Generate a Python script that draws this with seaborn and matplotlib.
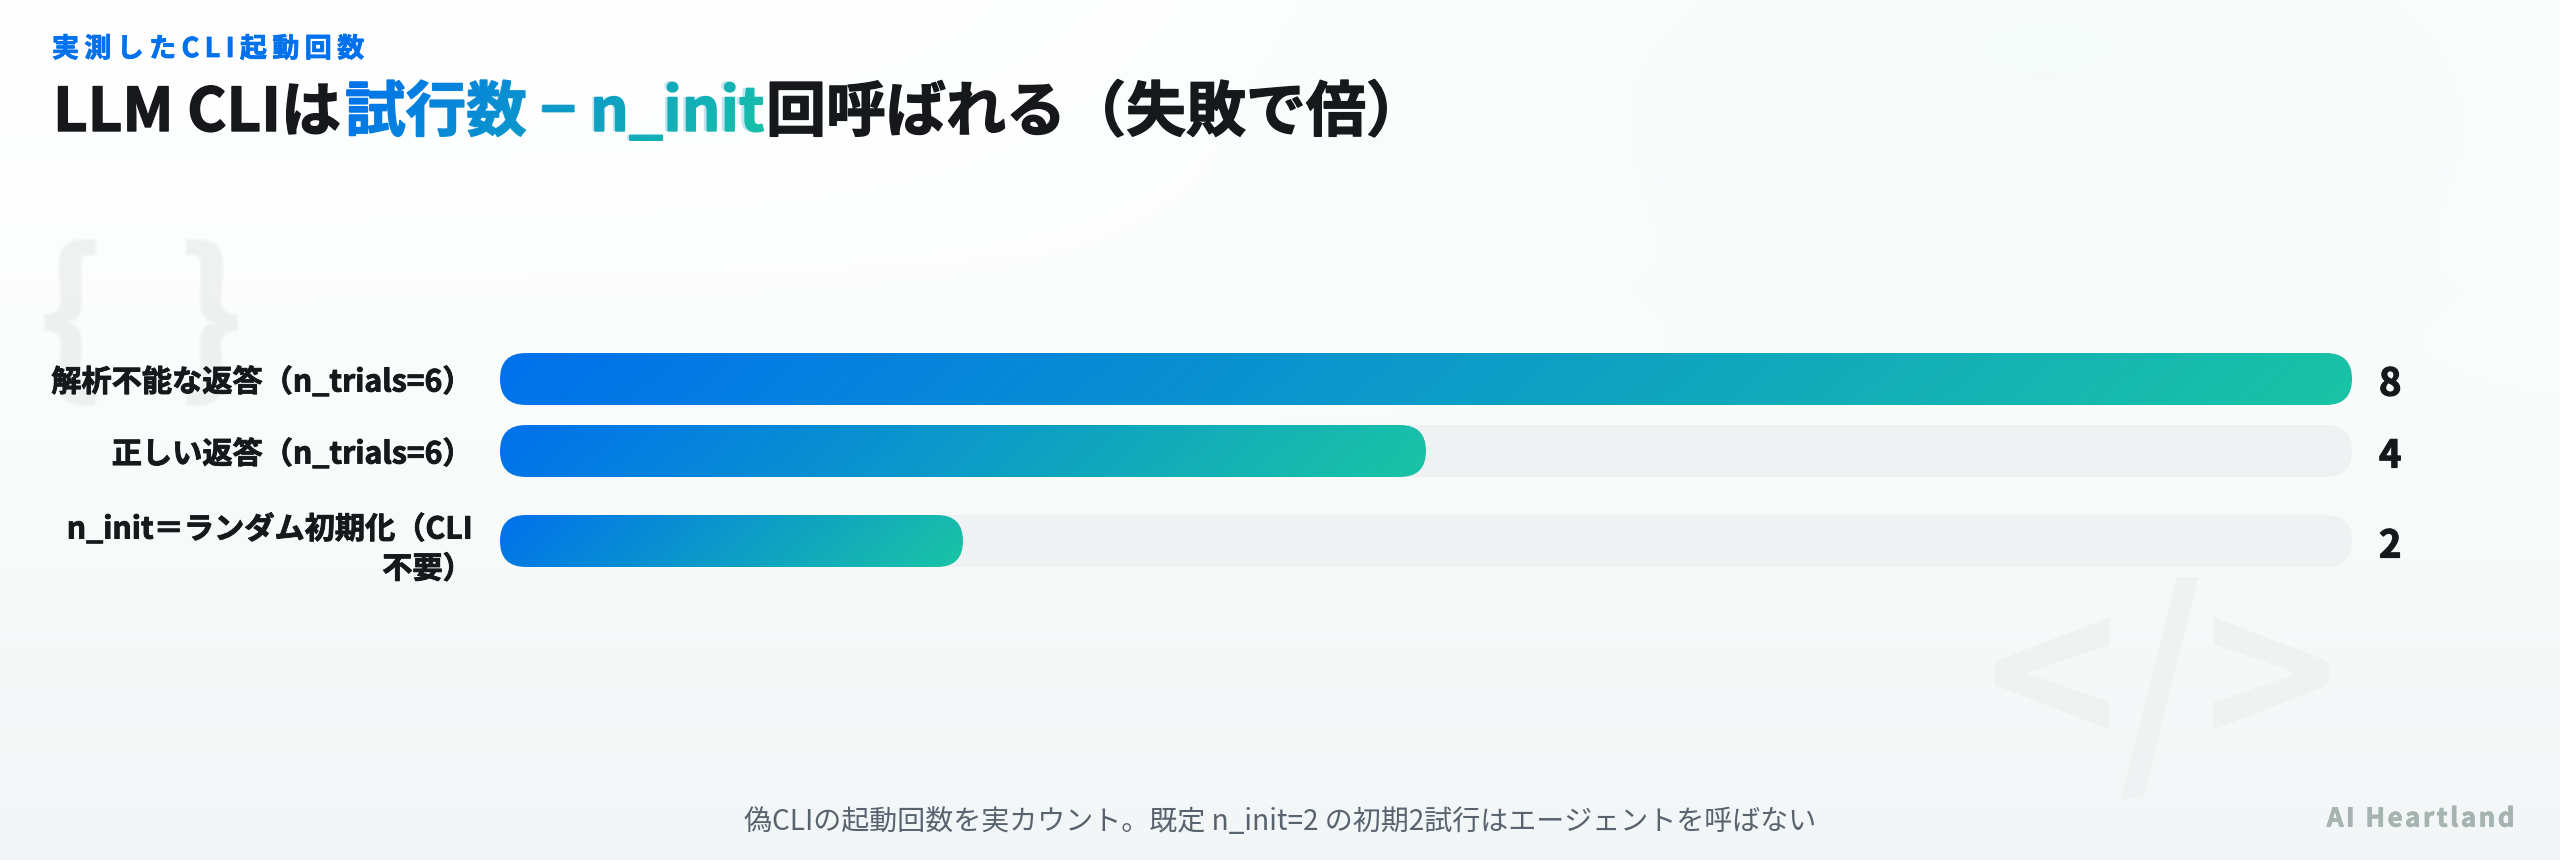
import numpy as np
import pandas as pd
import matplotlib
matplotlib.use("Agg")
import matplotlib.pyplot as plt
import matplotlib.patheffects as pe
import seaborn as sns
from matplotlib.backends.backend_agg import FigureCanvasAgg
from matplotlib.colors import to_rgb
from matplotlib.figure import Figure
from matplotlib.font_manager import FontProperties
from matplotlib.patches import FancyBboxPatch, PathPatch
from matplotlib.textpath import TextPath
from matplotlib.transforms import Affine2D

# ---- data ----
categories = ["解析不能な返答（n_trials=6）", "正しい返答（n_trials=6）", "n_init＝ランダム初期化（CLI\n不要）"]
counts = [8, 4, 2]
axis_max = 8

eyebrow = "実測したCLI起動回数"
title_head = "LLM CLIは"
title_accent = "試行数 − n_init"
title_tail = "回呼ばれる（失敗で倍）"
footer = "偽CLIの起動回数を実カウント。既定 n_init=2 の初期2試行はエージェントを呼ばない"
brand = "AI Heartland"

# ---- layout / style ----
W, H = 2560, 860
row_centres = [379, 451, 541]
BAR_H = 52
LEFT, RIGHT = 500, 2352
BLUE, TEAL = to_rgb("#0071EC"), to_rgb("#1AC4A5")
INK = "#16181C"
JP = "Noto Sans CJK JP"
FAM = [JP, "DejaVu Sans"]
HS = "\u200a"
TS = "\u2009"

def px(v):
    return v * 72 / 100

def heavy(w, c):
    return [pe.withStroke(linewidth=px(w), foreground=c)]

sns.set_theme(style="white")
plt.rcParams["font.family"] = FAM
plt.rcParams["axes.unicode_minus"] = False

fig = plt.figure(figsize=(W / 100, H / 100), dpi=100)

# page layer: 1 unit = 1 pixel
page = fig.add_axes([0, 0, 1, 1], zorder=0)
page.set_axis_off()
yy, xx = np.mgrid[0:1:172j, 0:1:512j]
top = np.array([1.0, 1.0, 1.0])
bottom = np.array([0.953, 0.966, 0.966])
bgimg = top[None, None, :] + (bottom - top)[None, None, :] * (yy[..., None] ** 1.3)
blob = np.exp(-(((xx - 0.8) / 0.28) ** 2 + ((yy - 0.02) / 0.3) ** 2))[..., None]
bgimg = bgimg + blob * (np.array([0.965, 0.985, 0.978]) - 1.0)
page.imshow(np.clip(bgimg, 0, 1), extent=(0, W, H, 0), aspect="auto", zorder=0, interpolation="bicubic")
page.set_xlim(0, W)
page.set_ylim(H, 0)

# watermarks
page.text(141, 326, "{  }", family=FAM, weight="bold", fontsize=px(168),
          color="#EEF0F0", alpha=0.7, ha="center", va="center", zorder=1,
          path_effects=heavy(4, "#F3F5F5"))
page.text(2162, 692, "</>", family=JP, weight="bold", fontsize=px(225),
          color="#EEF0F0", alpha=0.7, ha="center", va="center", zorder=1)

# title block
page.text(52, 57, TS.join(eyebrow), color="#0071EC", fontsize=px(27), weight="bold", zorder=3,
          path_effects=heavy(0.8, "#0071EC"))
TITLE_PX = 60
BASE = 131
page.text(53, BASE, title_head, color=INK, fontsize=px(TITLE_PX), weight="bold", zorder=3,
          path_effects=heavy(1.4, INK))
ACC_X = 345
mid = tuple((np.array(BLUE) + np.array(TEAL)) / 2)
page.text(ACC_X, BASE, title_accent, color=mid, alpha=0.25, fontsize=px(TITLE_PX), weight="bold", zorder=3)
page.text(766, BASE, title_tail, color=INK, fontsize=px(TITLE_PX), weight="bold", zorder=3,
          path_effects=heavy(1.4, INK))

def gradient(n=400, m=8, w=1.0, h=1.0):
    ty, tx = np.mgrid[0:1:complex(m), 0:1:complex(n)]
    t = (tx * w + ty * h) / (w + h)
    return np.array(BLUE)[None, None, :] * (1 - t[..., None]) + np.array(TEAL)[None, None, :] * t[..., None]

# gradient fill of the accent words: an antialiased glyph mask used as the alpha of a gradient image
tp = TextPath((0, 0), title_accent, size=TITLE_PX, prop=FontProperties(family=FAM, weight="bold"))
tb = tp.get_extents()
SX = 1.01
mfig = Figure(figsize=(W / 100, H / 100), dpi=100)
mcanvas = FigureCanvasAgg(mfig)
mfig.add_artist(PathPatch(tp, transform=Affine2D().scale(SX, 1).translate(ACC_X, H - BASE),
                          facecolor="black", edgecolor="black", linewidth=px(1.4)))
mcanvas.draw()
mask = np.asarray(mcanvas.buffer_rgba())[..., 0]
alpha = 1 - mask / 255.0
x0, x1 = ACC_X + tb.x0, ACC_X + tb.x1 * SX
ty_px, tx_px = np.mgrid[0:H, 0:W]
tg = np.clip(((tx_px - x0) + (ty_px - (BASE - 50))) / ((x1 - x0) + 70), 0, 1)[..., None]
rgba = np.dstack([np.array(BLUE)[None, None, :] * (1 - tg) + np.array(TEAL)[None, None, :] * tg, alpha])
page.imshow(rgba, extent=(0, W, H, 0), aspect="auto", zorder=4, interpolation="nearest")
page.set_xlim(0, W)
page.set_ylim(H, 0)

# footer & brand
page.text(1280, 822, footer, color="#59636F", fontsize=px(28), ha="center", va="center", zorder=3)
page.text(2515, 819, HS.join(brand), color="#A6B4B1", fontsize=px(25.8), weight="bold",
          ha="right", va="center", zorder=3, path_effects=heavy(0.8, "#A6B4B1"))

# chart layer
ax = fig.add_axes([LEFT / W, 0, (RIGHT - LEFT) / W, 1], zorder=2)
ax.patch.set_alpha(0)
df = pd.DataFrame({"row": row_centres, "count": counts, "track": [axis_max] * len(counts)})
rel_w = BAR_H / np.min(np.diff(row_centres))
sns.barplot(data=df, x="track", y="row", orient="y", native_scale=True, width=rel_w, color="#EFF2F3", ax=ax, zorder=1)
n_track = len(ax.patches)
sns.barplot(data=df, x="count", y="row", orient="y", native_scale=True, width=rel_w, color="#0071EC", ax=ax, zorder=2)
ax.set_xlim(0, axis_max)
ax.set_ylim(H, 0)

unit = axis_max / (RIGHT - LEFT)  # x data per pixel
for i, bar in enumerate(list(ax.patches)):
    bx, by, bw, bh = bar.get_x(), bar.get_y(), bar.get_width(), bar.get_height()
    by, bh = min(by, by + bh), abs(bh)
    bar.set_visible(False)
    pill = FancyBboxPatch((bx, by), bw, bh, boxstyle=f"round,pad=0,rounding_size={26 * unit}",
                          mutation_aspect=1 / unit, linewidth=0,
                          facecolor="#EFF2F3" if i < n_track else "none", zorder=1 if i < n_track else 2)
    ax.add_patch(pill)
    if i >= n_track:
        img = ax.imshow(gradient(w=bw / unit, h=bh), extent=(bx, bx + bw, by + bh, by), aspect="auto",
                        zorder=3, interpolation="bilinear")
        img.set_clip_path(pill)
ax.set_xlim(0, axis_max)
ax.set_ylim(H, 0)

ax.set_yticks(row_centres, categories)
ax.set_xticks([])
ax.set_xlabel("")
ax.set_ylabel("")
ax.tick_params(axis="y", length=0, pad=px(27))
for lab in ax.get_yticklabels():
    lab.set_fontsize(px(30.2))
    lab.set_fontweight("bold")
    lab.set_color(INK)
    lab.set_linespacing(1.4)
    lab.set_path_effects(heavy(0.9, INK))
sns.despine(ax=ax, left=True, bottom=True)

for yc, v in zip(row_centres, counts):
    ax.annotate(str(v), xy=(axis_max, yc), xytext=(px(27), -px(5)), textcoords="offset points",
                ha="left", va="center", fontsize=px(38), fontweight="bold", color=INK,
                path_effects=heavy(1.2, INK))

fig.savefig("out.png", dpi=100)
